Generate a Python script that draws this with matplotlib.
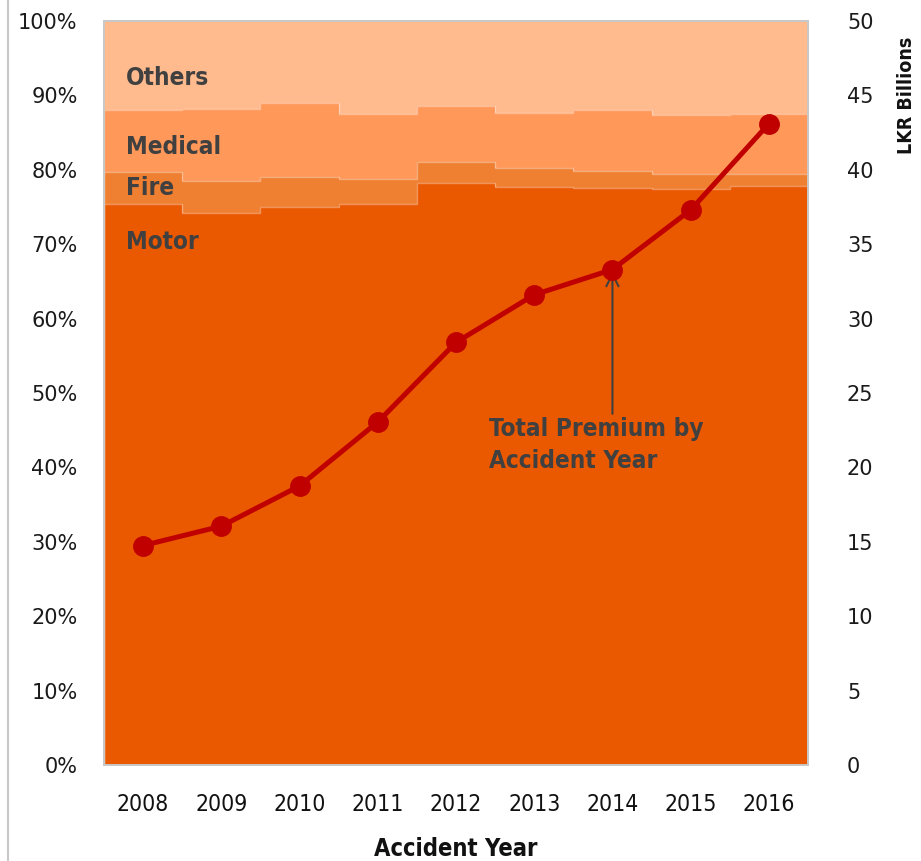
import matplotlib
matplotlib.use("Agg")
import matplotlib.pyplot as plt
from matplotlib.lines import Line2D
import numpy as np

years = ["2008", "2009", "2010", "2011", "2012", "2013", "2014", "2015", "2016"]
motor = [75.4, 74.2, 75.0, 75.4, 78.2, 77.7, 77.6, 77.4, 77.8]
fire = [4.3, 4.3, 4.1, 3.4, 2.8, 2.5, 2.3, 2.1, 1.6]
medical = [8.4, 9.7, 9.9, 8.7, 7.6, 7.4, 8.2, 7.8, 8.1]
others = [11.9, 11.8, 11.0, 12.5, 11.4, 12.4, 11.9, 12.7, 12.5]
premium = [14.75, 16.05, 18.75, 23.05, 28.4, 31.6, 33.3, 37.3, 43.1]

colors = ["#EA5800", "#EF7F31", "#FF9859", "#FFBA8E"]
names = ["Motor", "Fire", "Medical", "Others"]
txt_col = "#404040"
cond = dict(family="DejaVu Sans", fontstretch="condensed")

fig = plt.figure(figsize=(9.21, 8.61), dpi=100)
ax = fig.add_axes([0.1129, 0.1115, 0.7644, 0.8641])
x = np.arange(len(years))
edges = np.arange(len(years) + 1) - 0.5

bottom = np.zeros(len(years))
for vals, c in zip([motor, fire, medical, others], colors):
    ax.bar(x, vals, width=1.0, bottom=bottom, color=c, linewidth=0, zorder=1)
    bottom = bottom + np.array(vals)
    if bottom.max() < 99.9:
        ax.stairs(bottom, edges, color="white", alpha=0.35, lw=1.0, zorder=2)

ax.set_xlim(-0.5, len(years) - 0.5)
ax.set_ylim(0, 100)
ax.set_yticks(np.arange(0, 101, 10))
ax.set_yticklabels([f"{v}%" for v in range(0, 101, 10)], fontsize=15, color="#1a1a1a")
ax.set_xticks(x)
ax.set_xticklabels(years, fontsize=16.5, color="#111111", **cond)
ax.tick_params(axis="both", length=0)
ax.tick_params(axis="x", pad=20)
ax.tick_params(axis="y", pad=19)
ax.set_xlabel("Accident Year", fontsize=17, fontweight="bold",
              labelpad=15, color="#111111", **cond)
for s in ax.spines.values():
    s.set_color("#c8c8c8")
    s.set_linewidth(1.2)

# series labels
label_y = [70.3, 77.6, 83.0, 92.3]
for name, yy in zip(names, label_y):
    ax.text(-0.22, yy, name, fontsize=17.5, fontweight="bold",
            color=txt_col, va="center", ha="left", zorder=3, **cond)

ax2 = ax.twinx()
ax2.plot(x, premium, color="#C00000", lw=3.6, marker="o", markersize=14, zorder=4)
ax2.set_ylim(0, 50)
ax2.set_yticks(np.arange(0, 51, 5))
ax2.set_yticklabels([str(v) for v in range(0, 51, 5)], fontsize=15, color="#1a1a1a")
ax2.tick_params(axis="y", length=0, pad=28)
ax2.set_ylabel("LKR Billions", fontsize=14, fontweight="bold",
               color="#111111", **cond)
ax2.yaxis.set_label_coords(1.126, 0.90)
for s in ax2.spines.values():
    s.set_color("#c8c8c8")
    s.set_linewidth(1.2)

ax2.annotate("", xy=(6, premium[6] - 0.15), xytext=(6, 23.6),
             arrowprops=dict(arrowstyle="->", color="#404040", lw=1.5,
                             mutation_scale=22, shrinkA=0, shrinkB=0))
ax2.text(4.42, 21.5, "Total Premium by\nAccident Year", fontsize=17.5, fontweight="bold",
         color=txt_col, va="center", ha="left", linespacing=1.4, **cond)

fig.add_artist(Line2D([0.0087, 0.0087], [0, 1], color="#c8c8c8", lw=1.5,
                      transform=fig.transFigure))

fig.savefig("out.png", dpi=100)
